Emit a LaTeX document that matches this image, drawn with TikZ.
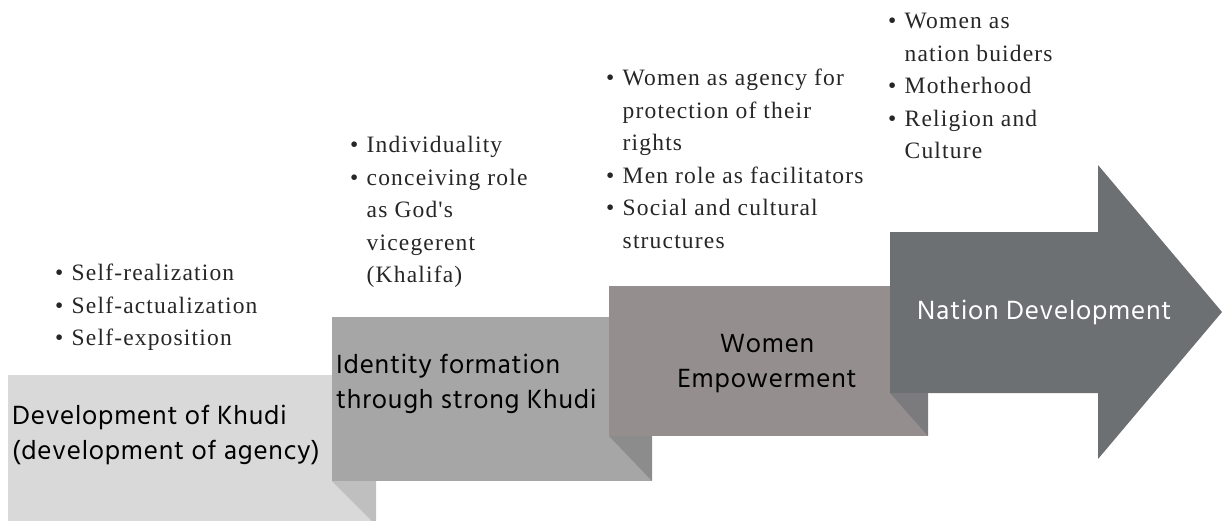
\documentclass[tikz,border=0pt]{standalone}
\usepackage{fontspec}
\setmainfont{Liberation Serif}
\newfontfamily\stepsans[LetterSpace=3]{Hind Madurai}
\newfontfamily\noteserif[LetterSpace=5]{Liberation Serif}
\usepackage{xcolor}
\definecolor{stepA}{HTML}{D9D9D9}
\definecolor{stepB}{HTML}{A6A6A6}
\definecolor{stepC}{HTML}{948F8E}
\definecolor{stepD}{HTML}{6C7073}
\definecolor{foldA}{HTML}{BFBFBF}
\definecolor{foldB}{HTML}{8C8C8C}
\definecolor{foldC}{HTML}{7B7B7D}
\definecolor{notetext}{HTML}{262626}

% bullet and hanging indent for the note lists
\newcommand{\itm}{\makebox[16.5pt][l]{\textbullet}}
\newcommand{\hng}{\hspace*{16.5pt}}

\begin{document}
\begin{tikzpicture}[x=1pt,y=-1pt,
  steptext/.style={font=\stepsans\fontsize{27}{35}\selectfont,align=left,inner sep=0pt},
  note/.style={font=\noteserif\fontsize{23.5}{32.5}\selectfont,text=notetext,align=left,anchor=north west,inner sep=0pt}]
\useasboundingbox (0,0) rectangle (1222,520);

% the four steps, each with a folded corner under the next one
\fill[stepA] (8,375) rectangle (376,530);
\fill[stepB] (332,317) rectangle (652,481);
\fill[foldA] (332,481) -- (376,481) -- (376,525) -- cycle;
\fill[stepC] (609,286) rectangle (928,436);
\fill[foldB] (609,436) -- (652,436) -- (652,481) -- cycle;
\fill[stepD] (890,232) -- (1098,232) -- (1098,165) -- (1222,312)
  -- (1098,459) -- (1098,393) -- (890,393) -- cycle;
\fill[foldC] (890,393) -- (928,393) -- (928,436) -- cycle;

% step labels
\node[steptext,anchor=north west] (step1) at (12,405) {Development of Khudi\\(development of agency)};
\node[steptext,anchor=north west] (step2) at (336,354) {Identity formation\\through strong Khudi};
\node[steptext,align=center,anchor=north] (step3) at (767,334) {Women\\Empowerment};
\node[steptext,text=white,anchor=west] (step4) at (917,312) {Nation Development};

% notes above the steps
\node[note] (note1) at (55,264) {\itm Self-realization\\\itm Self-actualization\\\itm Self-exposition};
\node[note] (note2) at (350,136) {\itm Individuality\\\itm conceiving role\\\hng as God's\\\hng vicegerent\\\hng (Khalifa)};
\node[note] (note3) at (606,69) {\itm Women as agency for\\\hng protection of their\\\hng rights\\\itm Men role as facilitators\\\itm Social and cultural\\\hng structures};
\node[note] (note4) at (888,13) {\itm Women as\\\hng nation buiders\\\itm Motherhood\\\itm Religion and\\\hng Culture};
\end{tikzpicture}
\end{document}
